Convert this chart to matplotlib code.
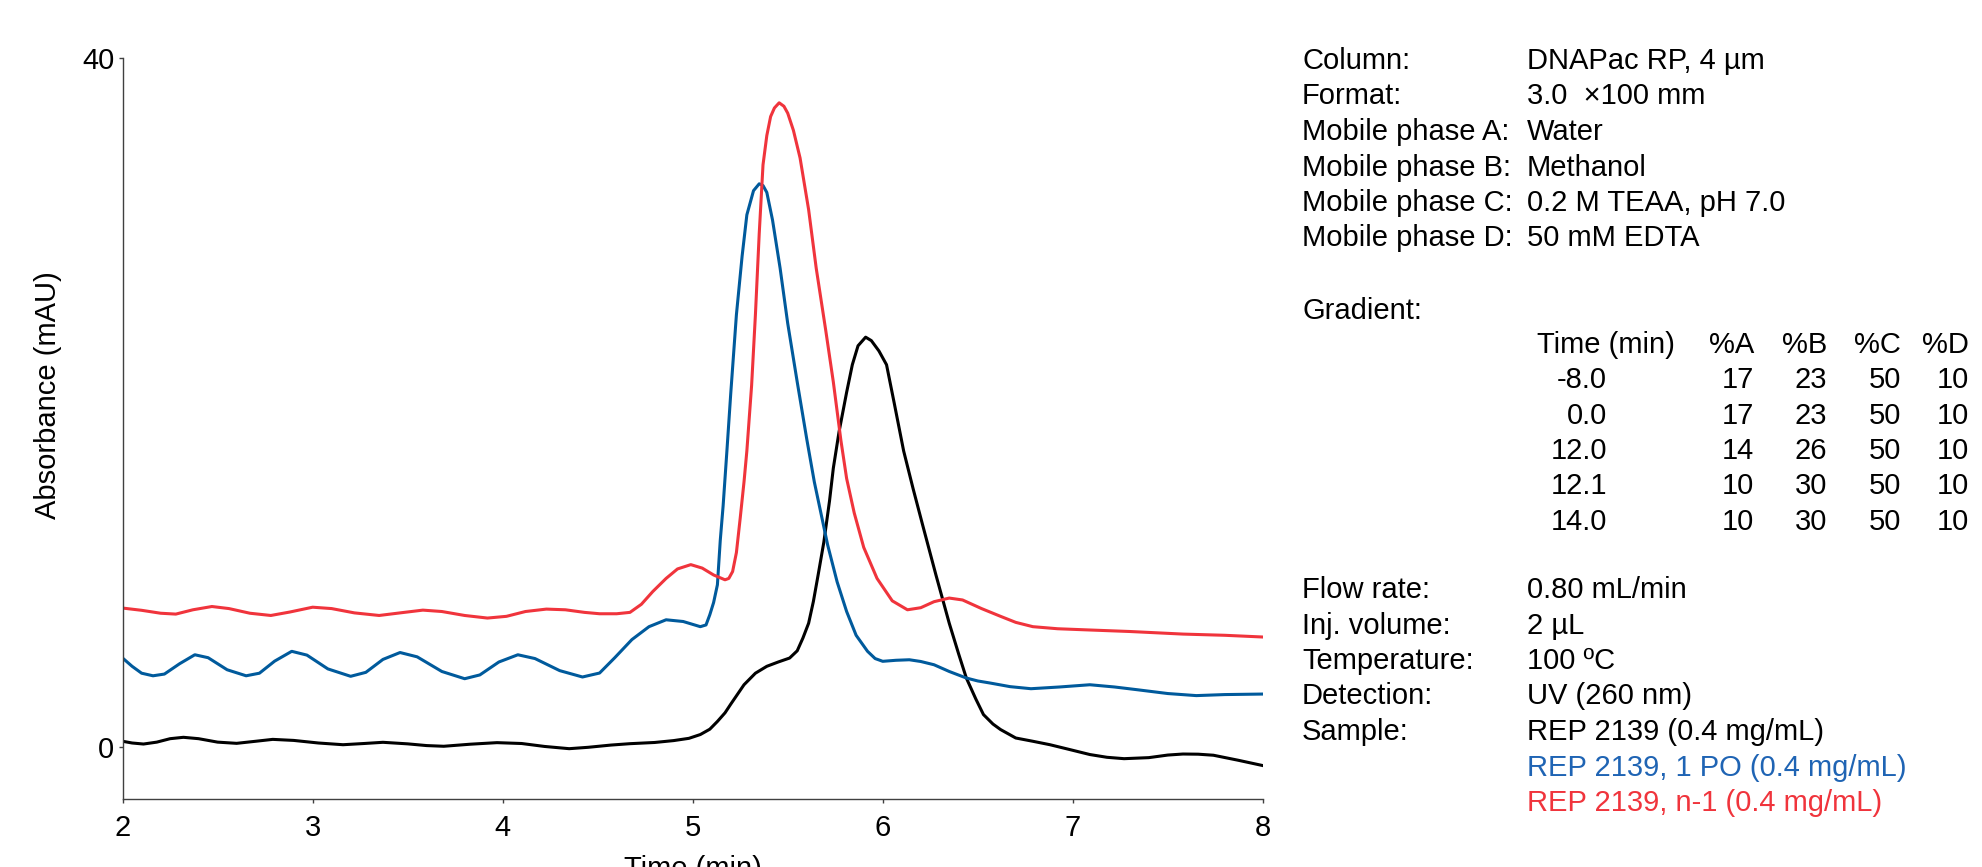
import matplotlib
matplotlib.use('Agg')
import matplotlib.pyplot as plt

plt.rcParams['font.family'] = ['Liberation Sans', 'DejaVu Sans']
plt.rcParams['font.size'] = 21

# chromatogram traces (time in min, absorbance in mAU)
black_t = [2.00, 2.05, 2.11, 2.18, 2.25, 2.32, 2.40, 2.50, 2.60, 2.70, 2.79, 2.90,
           3.03, 3.16, 3.27, 3.37, 3.50, 3.60, 3.69, 3.83, 3.97, 4.10, 4.22, 4.35,
           4.45, 4.57, 4.67, 4.80, 4.90, 4.98, 5.04, 5.09, 5.13, 5.17, 5.20, 5.27,
           5.33, 5.39, 5.45, 5.51, 5.55, 5.58, 5.61, 5.635, 5.66, 5.69, 5.72, 5.74,
           5.77, 5.81, 5.84, 5.87, 5.91, 5.94, 5.98, 6.02, 6.06, 6.11, 6.16, 6.21,
           6.28, 6.35, 6.40, 6.44, 6.49, 6.53, 6.58, 6.62, 6.70, 6.79, 6.88, 6.98,
           7.09, 7.18, 7.27, 7.40, 7.50, 7.58, 7.66, 7.74, 7.87, 8.00]
black_y = [0.35, 0.25, 0.19, 0.30, 0.50, 0.58, 0.50, 0.30, 0.23, 0.35, 0.46, 0.40,
           0.25, 0.15, 0.22, 0.29, 0.20, 0.10, 0.06, 0.18, 0.27, 0.22, 0.05, -0.08,
           0.00, 0.13, 0.21, 0.28, 0.39, 0.52, 0.74, 1.05, 1.5, 2.0, 2.5, 3.63,
           4.3, 4.7, 4.95, 5.18, 5.6, 6.34, 7.2, 8.46, 10.0, 11.9, 14.3, 16.2,
           18.3, 20.6, 22.2, 23.3, 23.8, 23.6, 23.0, 22.2, 20.0, 17.2, 15.0, 12.9,
           10.0, 7.2, 5.4, 4.02, 2.8, 1.9, 1.35, 1.03, 0.54, 0.35, 0.15, -0.12,
           -0.42, -0.58, -0.66, -0.60, -0.45, -0.39, -0.40, -0.46, -0.75, -1.06]

blue_t = [2.00, 2.05, 2.10, 2.16, 2.22, 2.30, 2.38, 2.45, 2.55, 2.65, 2.72, 2.80,
          2.89, 2.97, 3.08, 3.20, 3.28, 3.37, 3.46, 3.55, 3.68, 3.80, 3.88, 3.98,
          4.08, 4.17, 4.30, 4.42, 4.51, 4.59, 4.68, 4.77, 4.86, 4.95, 5.04, 5.07,
          5.09, 5.11, 5.13, 5.145, 5.16, 5.18, 5.20, 5.23, 5.26, 5.285, 5.32, 5.35,
          5.37, 5.39, 5.42, 5.46, 5.50, 5.55, 5.60, 5.64, 5.71, 5.76, 5.81, 5.86,
          5.92, 5.96, 6.00, 6.07, 6.14, 6.20, 6.27, 6.35, 6.44, 6.50, 6.565, 6.67,
          6.78, 6.93, 7.09, 7.22, 7.34, 7.50, 7.65, 7.80, 8.00]
blue_y = [5.18, 4.70, 4.30, 4.15, 4.25, 4.85, 5.37, 5.20, 4.50, 4.15, 4.30, 5.00,
          5.57, 5.35, 4.55, 4.12, 4.35, 5.10, 5.50, 5.25, 4.40, 3.98, 4.20, 4.95,
          5.37, 5.15, 4.45, 4.08, 4.31, 5.20, 6.25, 7.00, 7.40, 7.30, 7.00, 7.10,
          7.69, 8.40, 9.43, 12.0, 14.0, 17.2, 20.5, 25.1, 28.5, 30.9, 32.3, 32.7,
          32.6, 32.2, 30.6, 27.8, 24.6, 21.2, 17.9, 15.4, 11.75, 9.6, 7.88, 6.5,
          5.57, 5.15, 4.99, 5.05, 5.08, 4.98, 4.79, 4.40, 4.02, 3.85, 3.73, 3.52,
          3.40, 3.50, 3.63, 3.50, 3.34, 3.12, 3.00, 3.06, 3.09]

red_t = [2.00, 2.10, 2.20, 2.28, 2.37, 2.47, 2.56, 2.67, 2.78, 2.88, 3.00, 3.10,
         3.22, 3.35, 3.46, 3.58, 3.68, 3.80, 3.92, 4.02, 4.12, 4.23, 4.33, 4.43,
         4.51, 4.60, 4.67, 4.73, 4.79, 4.86, 4.92, 4.99, 5.05, 5.11, 5.17, 5.19,
         5.21, 5.23, 5.25, 5.27, 5.285, 5.31, 5.33, 5.35, 5.37, 5.39, 5.41, 5.43,
         5.455, 5.48, 5.50, 5.53, 5.565, 5.61, 5.65, 5.70, 5.74, 5.78, 5.81, 5.85,
         5.90, 5.97, 6.05, 6.13, 6.20, 6.27, 6.35, 6.42, 6.52, 6.62, 6.70, 6.79,
         6.92, 7.06, 7.30, 7.58, 7.80, 8.00]
red_y = [8.08, 7.95, 7.78, 7.73, 7.98, 8.17, 8.05, 7.78, 7.65, 7.85, 8.13, 8.05,
         7.80, 7.65, 7.80, 7.96, 7.88, 7.65, 7.50, 7.60, 7.88, 8.02, 7.98, 7.83,
         7.75, 7.75, 7.83, 8.30, 9.04, 9.80, 10.35, 10.6, 10.4, 10.0, 9.72, 9.80,
         10.2, 11.3, 13.3, 15.4, 17.2, 21.0, 25.1, 29.8, 33.8, 35.5, 36.6, 37.1,
         37.4, 37.2, 36.8, 35.8, 34.2, 31.2, 27.8, 24.2, 21.2, 17.8, 15.6, 13.6,
         11.6, 9.8, 8.5, 7.98, 8.10, 8.45, 8.66, 8.55, 8.05, 7.60, 7.25, 7.00,
         6.88, 6.82, 6.72, 6.57, 6.50, 6.40]

x_ticks = [2, 3, 4, 5, 6, 7, 8]
y_ticks = [0, 40]

# method conditions
cond_labels = ['Column:', 'Format:', 'Mobile phase A:', 'Mobile phase B:',
               'Mobile phase C:', 'Mobile phase D:']
cond_values = ['DNAPac RP, 4 \u00b5m', '3.0  \u00d7100 mm', 'Water', 'Methanol',
               '0.2 M TEAA, pH 7.0', '50 mM EDTA']

grad_header = ['%A', '%B', '%C', '%D']
grad_time = ['-8.0', '0.0', '12.0', '12.1', '14.0']
grad_rows = [['17', '23', '50', '10'],
             ['17', '23', '50', '10'],
             ['14', '26', '50', '10'],
             ['10', '30', '50', '10'],
             ['10', '30', '50', '10']]

run_labels = ['Flow rate:', 'Inj. volume:', 'Temperature:', 'Detection:', 'Sample:']
run_values = ['0.80 mL/min', '2 \u00b5L', '100 \u00baC', 'UV (260 nm)',
              'REP 2139 (0.4 mg/mL)']
samples = ['REP 2139, 1 PO (0.4 mg/mL)', 'REP 2139, n-1 (0.4 mg/mL)']

c_black = '#000000'
c_blue = '#005a9c'
c_red = '#f0343c'
c_blue_txt = '#1f64b4'

W, H = 1982, 867
fig = plt.figure(figsize=(W / 100, H / 100), dpi=100)
ax = fig.add_axes([122.6 / W, 1 - 799 / H, (1262.8 - 122.6) / W, (799 - 58) / H])

ax.plot(black_t, black_y, color=c_black, lw=2.2, solid_joinstyle='round')
ax.plot(blue_t, blue_y, color=c_blue, lw=2.2, solid_joinstyle='round')
ax.plot(red_t, red_y, color=c_red, lw=2.2, solid_joinstyle='round')

ax.set_xlim(2, 8)
ax.set_ylim(-3, 40)
ax.set_xticks(x_ticks)
ax.set_yticks(y_ticks)
for s in ['top', 'right']:
    ax.spines[s].set_visible(False)
for s in ['left', 'bottom']:
    ax.spines[s].set_color('#404040')
    ax.spines[s].set_linewidth(1.0)
ax.tick_params(axis='x', length=3, width=1, color='#404040', pad=8, labelsize=21)
ax.tick_params(axis='y', length=3, width=1, color='#404040', pad=3, labelsize=21)

fig.text(48 / W, 1 - 395 / H, 'Absorbance (mAU)', rotation=90,
         ha='center', va='center', fontsize=21)
# the x label sits partly below the bottom edge, as in the original
fig.text(692.7 / W, 1 - 855 / H, 'Time (min)', ha='center', va='top', fontsize=21)

def fy(py):
    return 1 - py / H

x_lab = 1302 / W
x_val = 1527 / W
step = 35.5

for i, (lab, val) in enumerate(zip(cond_labels, cond_values)):
    y = fy(61 + i * step)
    fig.text(x_lab, y, lab, va='center', fontsize=21)
    fig.text(x_val, y, val, va='center', fontsize=21)

fig.text(x_lab, fy(311), 'Gradient:', va='center', fontsize=21)
col_right = [1754, 1827, 1901, 1969]
fig.text(1537 / W, fy(345), 'Time (min)', va='center', fontsize=21)
for xr, h in zip(col_right, grad_header):
    fig.text(xr / W, fy(345), h, va='center', ha='right', fontsize=21)
for i, (t, row) in enumerate(zip(grad_time, grad_rows)):
    y = fy(380 + i * step)
    fig.text(1607 / W, y, t, va='center', ha='right', fontsize=21)
    for xr, v in zip(col_right, row):
        fig.text(xr / W, y, v, va='center', ha='right', fontsize=21)

for i, (lab, val) in enumerate(zip(run_labels, run_values)):
    y = fy(590 + i * step)
    fig.text(x_lab, y, lab, va='center', fontsize=21)
    fig.text(x_val, y, val, va='center', fontsize=21)
fig.text(x_val, fy(590 + 5 * step), samples[0], va='center', color=c_blue_txt, fontsize=21)
fig.text(x_val, fy(590 + 6 * step), samples[1], va='center', color=c_red, fontsize=21)

fig.savefig('out.png', dpi=100)
